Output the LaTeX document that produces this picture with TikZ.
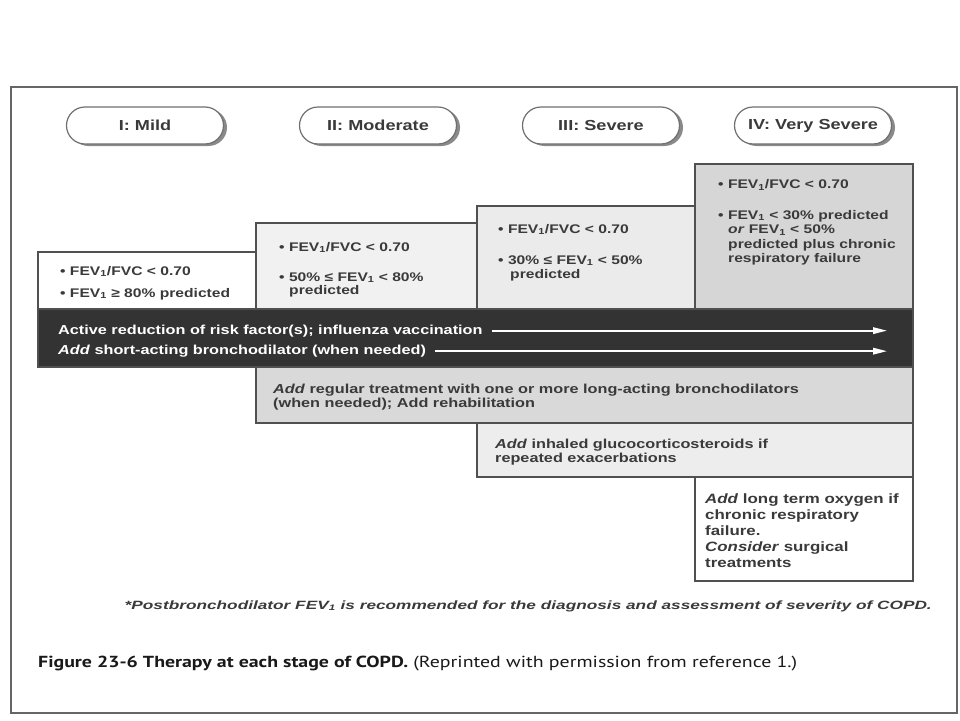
\documentclass[tikz,border=0pt]{standalone}
\usepackage{fontspec}
\usepackage{graphicx}
\setmainfont{Liberation Sans}
\newfontfamily\wf[FakeStretch=1.25]{Liberation Sans}
\newfontfamily\capf{PT Sans}
\usetikzlibrary{shapes.misc,shadows,arrows.meta}
\definecolor{txt}{HTML}{3A3A3A}
\definecolor{boxline}{HTML}{505050}
\definecolor{pillline}{HTML}{707070}
\definecolor{shadowc}{HTML}{8A8A8A}
\definecolor{frame}{HTML}{666666}
\definecolor{band}{HTML}{333333}
\definecolor{fII}{HTML}{F1F1F1}
\definecolor{fIII}{HTML}{EBEBEB}
\definecolor{fIV}{HTML}{D6D6D6}
\definecolor{frow}{HTML}{D9D9D9}
\definecolor{frowb}{HTML}{EDEDED}
\begin{document}
\begin{tikzpicture}[x=1pt,y=-1pt,
  pill/.style={rounded rectangle, draw=pillline, fill=white, line width=1.2pt,
    minimum width=157pt, minimum height=37pt, inner sep=0pt, text=txt,
    font=\wf\bfseries\fontsize{14.5}{16}\selectfont,
    drop shadow={shadow xshift=3.5pt, shadow yshift=-2pt, fill=shadowc, opacity=1}},
  box/.style={draw=boxline, line width=1.1pt},
  tx/.style={anchor=base west, inner sep=0pt, text=txt,
    font=\wf\bfseries\fontsize{12.5}{15}\selectfont},
  bt/.style={anchor=base west, inner sep=0pt, text=white,
    font=\wf\bfseries\fontsize{13}{15}\selectfont},
  rt/.style={anchor=base west, inner sep=0pt, text=txt,
    font=\wf\bfseries\fontsize{13}{15}\selectfont},
  r4t/.style={anchor=base west, inner sep=0pt, text=txt,
    font=\wf\bfseries\fontsize{13.5}{15}\selectfont},
  warrow/.style={draw=white, line width=1.8pt, -{Triangle[length=14pt,width=6.5pt]}}
]
\useasboundingbox (0,0) rectangle (960,720);
\fill[white] (0,0) rectangle (960,720);
% outer frame
\draw[draw=frame, line width=1.6pt] (11,87) rectangle (957,713);

% stage pills
\node[pill] (p1) at (145,125.5) {I: Mild};
\node[pill] (p2) at (378,125.5) {II: Moderate};
\node[pill] (p3) at (601,125.5) {III: Severe};
\node[pill] (p4) at (813,125.5) {IV: Very Severe};

% stage boxes
\draw[box, fill=white] (38,252) rectangle (256,309);
\draw[box, fill=fII] (256,223) rectangle (477,309);
\draw[box, fill=fIII] (477,206) rectangle (695,309);
\draw[box, fill=fIV] (695,164) rectangle (913,309);
% band
\draw[box, fill=band] (38,309) rectangle (913,367);
% therapy rows
\draw[box, fill=frow] (256,367) rectangle (913,423);
\draw[box, fill=frowb] (477,423) rectangle (913,477);
\draw[box, fill=white] (695,477) rectangle (913,581);

% stage I text
\node[tx] (s1a) at (60,275) {• FEV\textsubscript{1}/FVC < 0.70};
\node[tx] (s1b) at (60,297) {• FEV\textsubscript{1} ≥ 80\% predicted};
% stage II text
\node[tx] (s2a) at (279,251) {• FEV\textsubscript{1}/FVC < 0.70};
\node[tx] (s2b) at (279,281) {• 50\% ≤ FEV\textsubscript{1} < 80\%};
\node[tx] (s2c) at (289,294) {predicted};
% stage III text
\node[tx] (s3a) at (498,233) {• FEV\textsubscript{1}/FVC < 0.70};
\node[tx] (s3b) at (498,264) {• 30\% ≤ FEV\textsubscript{1} < 50\%};
\node[tx] (s3c) at (510,278) {predicted};
% stage IV text
\node[tx] (s4a) at (718,188.5) {• FEV\textsubscript{1}/FVC < 0.70};
\node[tx] (s4b) at (718,219) {• FEV\textsubscript{1} < 30\% predicted};
\node[tx] (s4c) at (728,233.5) {\textit{or} FEV\textsubscript{1} < 50\%};
\node[tx] (s4d) at (728,248) {predicted plus chronic};
\node[tx] (s4e) at (728,262.5) {respiratory failure};

% band text and arrows
\node[bt] (b1) at (58,334) {Active reduction of risk factor(s); influenza vaccination};
\node[bt] (b2) at (58,354.5) {\textit{Add} short-acting bronchodilator (when needed)};
\coordinate (aend) at (887,340);
\draw[warrow] ([xshift=9pt]b1.east) -- (b1.east -| aend);
\draw[warrow] ([xshift=9pt]b2.east) -- (b2.east -| aend);

% row 2
\node[rt] (r2a) at (273,393) {\textit{Add} regular treatment with one or more long-acting bronchodilators};
\node[rt] (r2b) at (273,407.5) {(when needed); Add rehabilitation};
% row 3
\node[rt] (r3a) at (495,448.5) {\textit{Add} inhaled glucocorticosteroids if};
\node[rt] (r3b) at (495,462.5) {repeated exacerbations};
% row 4
\node[r4t] (r4a) at (705,503) {\textit{Add} long term oxygen if};
\node[r4t] (r4b) at (705,519) {chronic respiratory};
\node[r4t] (r4c) at (705,535) {failure.};
\node[r4t] (r4d) at (705,551) {\textit{Consider} surgical};
\node[r4t] (r4e) at (705,567.5) {treatments};

% footnote
\node[anchor=base east, inner sep=0pt, text=txt] (fn) at (932,609)
  {\resizebox{807pt}{\height}{\fontsize{12}{14}\selectfont\bfseries\itshape *Postbronchodilator FEV\textsubscript{1} is recommended for the diagnosis and assessment of severity of COPD.}};
% caption
\node[anchor=base west, inner sep=0pt, text=black!90] (cap) at (38,667)
  {\resizebox{759pt}{\height}{\capf\fontsize{16}{18}\selectfont\textbf{Figure 23-6 Therapy at each stage of COPD.} (Reprinted with permission from reference 1.)}};
\end{tikzpicture}
\end{document}
